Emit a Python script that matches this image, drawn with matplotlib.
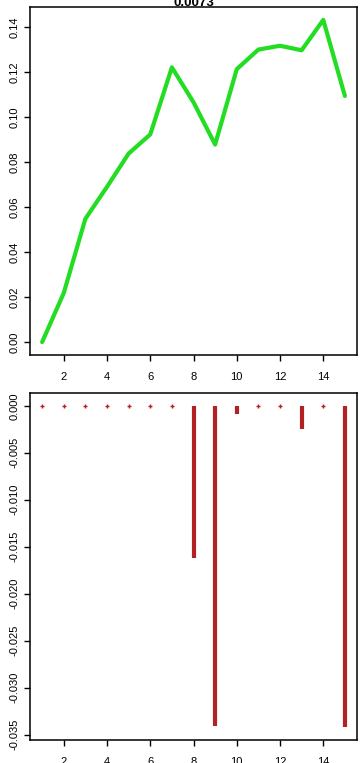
import matplotlib
matplotlib.use('Agg')
import matplotlib.pyplot as plt
from matplotlib.ticker import FixedLocator

plt.rcParams['font.family'] = ['Liberation Sans', 'DejaVu Sans']

# data
x = list(range(1, 16))
top_vals = [0.000, 0.0218, 0.0548, 0.069, 0.0838, 0.0923, 0.1221, 0.1066,
            0.0878, 0.1213, 0.1300, 0.1317, 0.1297, 0.1432, 0.1094]
bottom_vals = [0, 0, 0, 0, 0, 0, 0, -0.0162, -0.0341, -0.0009,
               0, 0, -0.0025, 0, -0.0342]
title = '0.0073'
x_ticks = [2, 4, 6, 8, 10, 12, 14]
top_ticks = [0.00, 0.02, 0.04, 0.06, 0.08, 0.10, 0.12, 0.14]
bottom_ticks = [0.000, -0.005, -0.010, -0.015, -0.020, -0.025, -0.030, -0.035]

W, H = 361, 763
fig = plt.figure(figsize=(W / 100, H / 100), dpi=100)


def r_pad(lo, hi):
    d = (hi - lo) * 0.04
    return lo - d, hi + d


def style(ax, yticks, fmt):
    for s in ax.spines.values():
        s.set_linewidth(1.1)
    ax.set_xlim(*r_pad(min(x), max(x)))
    ax.xaxis.set_major_locator(FixedLocator(x_ticks))
    ax.set_xticklabels([str(t) for t in x_ticks])
    ax.yaxis.set_major_locator(FixedLocator(yticks))
    ax.set_yticklabels([fmt.format(t) for t in yticks], rotation=90, va='center')
    ax.tick_params(direction='out', length=4.5, width=1, labelsize=8, pad=3)
    ax.tick_params(axis='x', pad=8)


# top panel: green line
ax1 = fig.add_axes([30 / W, 1 - 355 / H, 327 / W, 348 / H])
ax1.plot(x, top_vals, color='#22dd22', lw=3, solid_capstyle='round')
ax1.set_ylim(*r_pad(min(top_vals), max(top_vals)))
style(ax1, top_ticks, '{:.2f}')

# bottom panel: histogram-like vertical lines
ax2 = fig.add_axes([30 / W, 1 - 740 / H, 327 / W, 347 / H])
for xi, v in zip(x, bottom_vals):
    if v == 0:
        ax2.plot([xi], [v], marker='+', color='#b22222', ms=3, mew=1)
    else:
        ax2.plot([xi, xi], [0, v], color='#b22222', lw=3, solid_capstyle='butt')
ax2.set_ylim(*r_pad(min(bottom_vals), max(bottom_vals)))
style(ax2, bottom_ticks, '{:.3f}')

fig.text(193.5 / W, 1 - 6 / H, title, ha='center', va='baseline',
         fontsize=9.5, fontweight='bold')

fig.savefig('out.png', dpi=100)
